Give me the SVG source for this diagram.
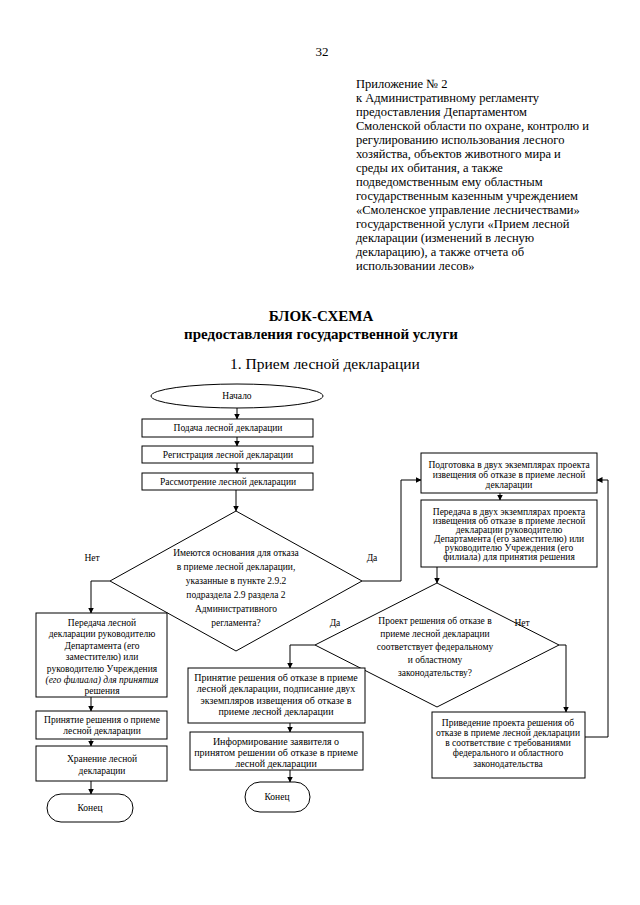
<svg xmlns="http://www.w3.org/2000/svg" width="640" height="905" viewBox="0 0 640 905">
<defs>
<marker id="ah" markerWidth="6" markerHeight="6" refX="5.5" refY="3" orient="auto" markerUnits="userSpaceOnUse">
<path d="M0,0 L6,3 L0,6 Z" fill="#000"/>
</marker>
<style>
.bg{fill:#fff}
.sh{fill:#fff;stroke:#000;stroke-width:1}
.t{font-family:"Liberation Serif","Times New Roman",serif;fill:#000}
.h{font-size:12.5px}
.n{font-size:9.5px;text-anchor:middle}
.m{font-size:10px;text-anchor:middle}
.d{font-size:9.5px;text-anchor:middle}
.c{stroke:#000;stroke-width:1;fill:none;marker-end:url(#ah)}
</style>
</defs>
<rect class="bg" x="0" y="0" width="640" height="905"/>

<text class="t" x="322" y="56" font-size="13" text-anchor="middle">32</text>

<g id="header" class="t h">
<text x="356" y="88">Приложение № 2</text>
<text x="356" y="102">к Административному регламенту</text>
<text x="356" y="116">предоставления Департаментом</text>
<text x="356" y="130">Смоленской области по охране, контролю и</text>
<text x="356" y="144">регулированию использования лесного</text>
<text x="356" y="158">хозяйства, объектов животного мира и</text>
<text x="356" y="172">среды их обитания, а также</text>
<text x="356" y="186">подведомственным ему областным</text>
<text x="356" y="200">государственным казенным учреждением</text>
<text x="356" y="214">«Смоленское управление лесничествами»</text>
<text x="356" y="228">государственной услуги «Прием лесной</text>
<text x="356" y="242">декларации (изменений в лесную</text>
<text x="356" y="256">декларацию), а также отчета об</text>
<text x="356" y="270">использовании лесов»</text>
</g>

<g id="title" class="t" text-anchor="middle">
<text x="321" y="321" font-size="15" font-weight="bold">БЛОК-СХЕМА</text>
<text x="321" y="339" font-size="15" font-weight="bold">предоставления государственной услуги</text>
<text x="325" y="369" font-size="15.5">1. Прием лесной декларации</text>
</g>

<g id="connectors">
<line class="c" x1="237" y1="408" x2="237" y2="419"/>
<line class="c" x1="237" y1="437" x2="237" y2="446"/>
<line class="c" x1="237" y1="463" x2="237" y2="473"/>
<line class="c" x1="236" y1="490" x2="236" y2="511"/>
<polyline class="c" points="110,581 91,581 91,613"/>
<polyline class="c" points="362,581 401,581 401,480 421,480"/>
<line class="c" x1="91" y1="697" x2="91" y2="711"/>
<line class="c" x1="91" y1="739" x2="91" y2="746"/>
<line class="c" x1="91" y1="781" x2="91" y2="794"/>
<line class="c" x1="500" y1="493" x2="500" y2="500"/>
<line class="c" x1="437" y1="567" x2="437" y2="583"/>
<polyline class="c" points="315,645 290,645 290,668"/>
<line class="c" x1="290" y1="723" x2="290" y2="732"/>
<line class="c" x1="290" y1="770" x2="290" y2="782"/>
<polyline class="c" points="559,645 566,645 566,712"/>
<polyline class="c" points="585,737 608,737 608,480 597,480"/>
</g>

<g id="start">
<ellipse class="sh" cx="237" cy="396" rx="86" ry="12"/>
<text class="t n" x="237" y="399">Начало</text>
</g>
<g id="submit">
<rect class="sh" x="142" y="419" width="171" height="18"/>
<text class="t n" x="228" y="431">Подача лесной декларации</text>
</g>
<g id="register">
<rect class="sh" x="142" y="446" width="171" height="17"/>
<text class="t n" x="228" y="458">Регистрация лесной декларации</text>
</g>
<g id="review">
<rect class="sh" x="142" y="473" width="171" height="17"/>
<text class="t n" x="228" y="485">Рассмотрение лесной декларации</text>
</g>

<g id="decision1">
<polygon class="sh" points="236,511 362,581 236,651 110,581"/>
<g class="t d">
<text x="236" y="556">Имеются основания для отказа</text>
<text x="236" y="570">в приеме лесной декларации,</text>
<text x="236" y="584">указанные в пункте 2.9.2</text>
<text x="236" y="598">подраздела 2.9 раздела 2</text>
<text x="236" y="612">Административного</text>
<text x="236" y="626">регламента?</text>
</g>
</g>
<text class="t d" x="92" y="561">Нет</text>
<text class="t d" x="372" y="561">Да</text>

<g id="transfer-left">
<rect class="sh" x="36" y="613" width="131" height="84"/>
<g class="t n">
<text x="102" y="626">Передача лесной</text>
<text x="102" y="637">декларации руководителю</text>
<text x="102" y="649">Департамента (его</text>
<text x="102" y="660">заместителю) или</text>
<text x="102" y="672">руководителю Учреждения</text>
<text x="102" y="683" font-style="italic">(его филиала) для принятия</text>
<text x="102" y="694">решения</text>
</g>
</g>
<g id="accept">
<rect class="sh" x="36" y="711" width="131" height="28"/>
<text class="t n" x="102" y="723">Принятие решения о приеме</text>
<text class="t n" x="102" y="734">лесной декларации</text>
</g>
<g id="store">
<rect class="sh" x="36" y="746" width="131" height="35"/>
<text class="t n" x="102" y="762">Хранение лесной</text>
<text class="t n" x="102" y="774">декларации</text>
</g>
<g id="end-left">
<rect class="sh" x="47" y="794" width="86" height="28" rx="14" ry="14"/>
<text class="t n" x="90" y="811">Конец</text>
</g>

<g id="prepare">
<rect class="sh" x="421" y="453" width="176" height="40"/>
<g class="t n">
<text x="509" y="468">Подготовка в двух экземплярах проекта</text>
<text x="509" y="478">извещения об отказе в приеме лесной</text>
<text x="509" y="488">декларации</text>
</g>
</g>
<g id="transfer-right">
<rect class="sh" x="421" y="500" width="176" height="67"/>
<g class="t n">
<text x="509" y="515">Передача в двух экземплярах проекта</text>
<text x="509" y="524">извещения об отказе в приеме лесной</text>
<text x="509" y="533">декларации руководителю</text>
<text x="509" y="542">Департамента (его заместителю) или</text>
<text x="509" y="551">руководителю Учреждения (его</text>
<text x="509" y="560">филиала) для принятия решения</text>
</g>
</g>

<g id="decision2">
<polygon class="sh" points="437,583 559,645 437,707 315,645"/>
<g class="t d">
<text x="435" y="624">Проект решения об отказе в</text>
<text x="435" y="637">приеме лесной декларации</text>
<text x="435" y="650">соответствует федеральному</text>
<text x="435" y="663">и областному</text>
<text x="435" y="676">законодательству?</text>
</g>
</g>
<text class="t d" x="335" y="626">Да</text>
<text class="t d" x="522" y="626">Нет</text>

<g id="refuse">
<rect class="sh" x="188" y="668" width="177" height="55"/>
<g class="t m">
<text x="276" y="681">Принятие решения об отказе в приеме</text>
<text x="276" y="692">лесной декларации, подписание двух</text>
<text x="276" y="704">экземпляров извещения об отказе в</text>
<text x="276" y="715">приеме лесной декларации</text>
</g>
</g>
<g id="inform">
<rect class="sh" x="190" y="732" width="173" height="38"/>
<g class="t m">
<text x="276" y="745">Информирование заявителя о</text>
<text x="276" y="756">принятом решении об отказе в приеме</text>
<text x="276" y="767">лесной декларации</text>
</g>
</g>
<g id="end-mid">
<rect class="sh" x="245" y="782" width="65" height="30" rx="15" ry="15"/>
<text class="t n" x="277" y="800">Конец</text>
</g>

<g id="amend">
<rect class="sh" x="432" y="712" width="153" height="66"/>
<g class="t n">
<text x="508" y="726">Приведение проекта решения об</text>
<text x="508" y="736">отказе в приеме лесной декларации</text>
<text x="508" y="746">в соответствие с требованиями</text>
<text x="508" y="756">федерального и областного</text>
<text x="508" y="767">законодательства</text>
</g>
</g>
</svg>
